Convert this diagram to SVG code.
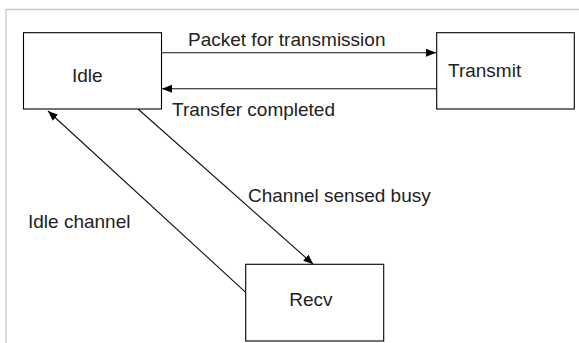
<svg xmlns="http://www.w3.org/2000/svg" width="579" height="343" viewBox="0 0 579 343">
<style>
.box{fill:#fff;stroke:#000;stroke-width:1.1}
.lbl{font-family:"Liberation Sans",Arial,sans-serif;font-size:19px;fill:#222}
.edge{stroke:#111;stroke-width:1.1;fill:none}
.frame{stroke:#c8c8c8;stroke-width:1.3;fill:none}
</style>
<defs>
<marker id="ah" markerUnits="userSpaceOnUse" markerWidth="12" markerHeight="10" refX="10" refY="4" orient="auto" viewBox="0 0 12 10">
<path d="M0,0 L10,4 L0,8 Z" fill="#000"/>
</marker>
</defs>
<rect width="579" height="343" fill="#fff"/>
<path class="frame" d="M6,343 L6,9.5 L579,9.5"/>
<g id="connectors">
<line class="edge" x1="161.5" y1="52.7" x2="436" y2="52.7" marker-end="url(#ah)"/>
<line class="edge" x1="436.7" y1="88.7" x2="162" y2="88.7" marker-end="url(#ah)"/>
<line class="edge" x1="138" y1="109" x2="313.3" y2="264.3" marker-end="url(#ah)"/>
<line class="edge" x1="245.7" y1="292.3" x2="48" y2="111" marker-end="url(#ah)"/>
<text class="lbl" x="188" y="46">Packet for transmission</text>
<text class="lbl" x="172" y="116">Transfer completed</text>
<text class="lbl" x="248" y="201.5">Channel sensed busy</text>
<text class="lbl" x="28" y="228">Idle channel</text>
</g>
<g id="idle">
<rect class="box" x="23.5" y="32.7" width="138" height="76.3"/>
<text class="lbl" x="72" y="82.3">Idle</text>
</g>
<g id="transmit">
<rect class="box" x="436.7" y="32.7" width="137.6" height="76.3"/>
<text class="lbl" x="448" y="77.3">Transmit</text>
</g>
<g id="recv">
<rect class="box" x="245.7" y="264.3" width="138" height="76.7"/>
<text class="lbl" x="289.3" y="305.7">Recv</text>
</g>
</svg>
